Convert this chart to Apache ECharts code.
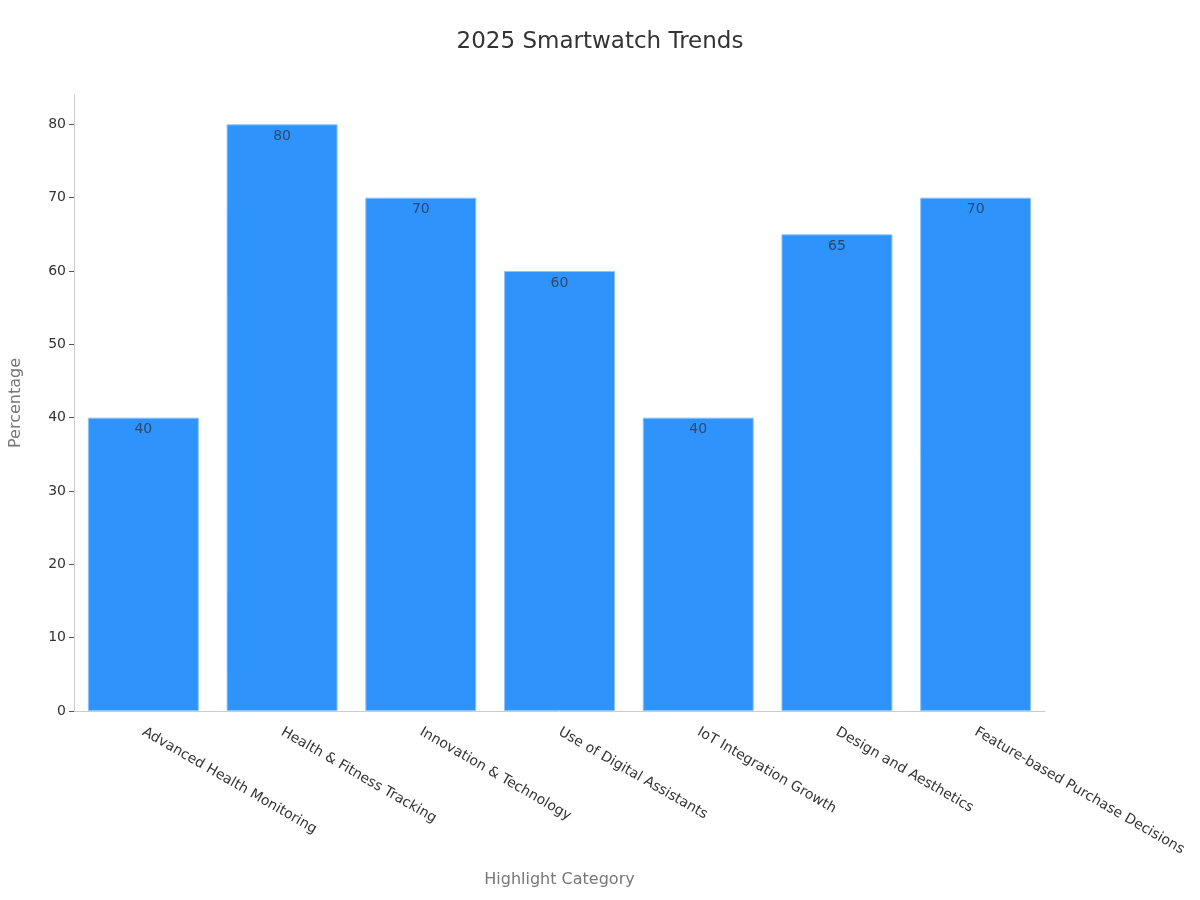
<!DOCTYPE html>
<html>
<head>
<meta charset="utf-8">
<script src="https://cdn.jsdelivr.net/npm/echarts@6/dist/echarts.min.js"></script>
<style>html,body{margin:0;padding:0;background:#fff;}#chart{width:1200px;height:900px;}</style>
</head>
<body>
<div id="chart"></div>
<script>
const categories = ["Advanced Health Monitoring", "Health & Fitness Tracking", "Innovation & Technology", "Use of Digital Assistants", "IoT Integration Growth", "Design and Aesthetics", "Feature-based Purchase Decisions"];
const values = [40, 80, 70, 60, 40, 65, 70];
const yTicks = [0, 10, 20, 30, 40, 50, 60, 70, 80];

const chart = echarts.init(document.getElementById('chart'));
const font = 'DejaVu Sans';
chart.setOption({
  animation: false,
  textStyle: { fontFamily: font },
  title: {
    text: '2025 Smartwatch Trends',
    left: 'center', top: 26,
    textStyle: { fontFamily: font, fontSize: 23, fontWeight: 'normal', color: '#333' }
  },
  grid: { left: 69, right: 155, top: 95, bottom: 189, containLabel: false },
  xAxis: {
    type: 'category',
    data: categories,
    name: 'Highlight Category',
    nameLocation: 'middle',
    nameGap: 161,
    nameTextStyle: { fontFamily: font, fontSize: 16, color: '#777' },
    axisLine: { lineStyle: { color: '#ccc' } },
    axisTick: { alignWithLabel: true, lineStyle: { color: '#555' }, length: 5 },
    axisLabel: { rotate: -30, fontFamily: font, fontSize: 14, color: '#333', margin: 20, interval: 0 }
  },
  yAxis: {
    type: 'value',
    min: 0, max: 84, interval: 10,
    name: 'Percentage',
    nameLocation: 'middle',
    nameGap: 50,
    nameTextStyle: { fontFamily: font, fontSize: 16, color: '#777' },
    axisLine: { show: true, lineStyle: { color: '#ccc' } },
    axisTick: { show: true, lineStyle: { color: '#555' }, length: 5, customValues: yTicks },
    splitLine: { show: false },
    axisLabel: {
      fontFamily: font, fontSize: 14, color: '#333', margin: 8,
      customValues: yTicks
    }
  },
  series: [{
    type: 'bar',
    data: values,
    barCategoryGap: '20%',
    itemStyle: { color: '#2E93FA', borderColor: '#8cc4fb', borderWidth: 1 },
    label: {
      show: true, position: 'insideTop', distance: 5,
      fontFamily: font, fontSize: 14, color: '#2b4a6b'
    }
  }]
});
</script>
</body>
</html>
